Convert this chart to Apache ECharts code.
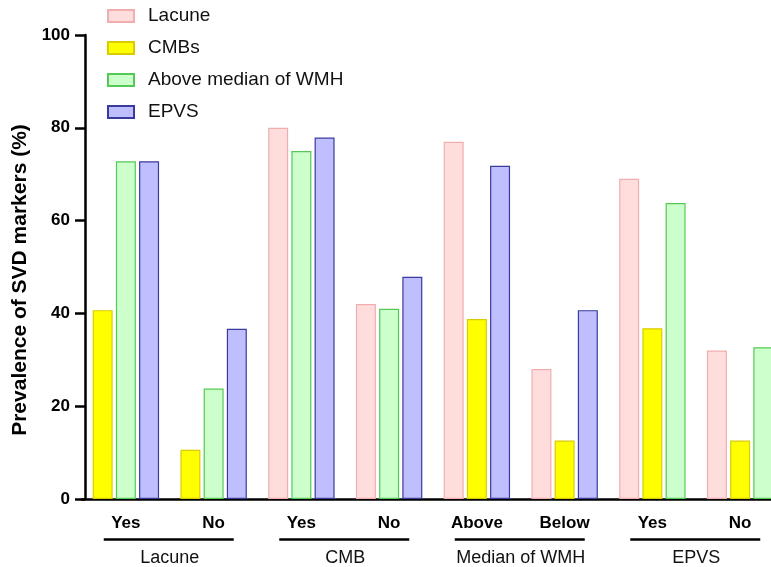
<!DOCTYPE html>
<html>
<head>
<meta charset="utf-8">
<script src="https://cdn.jsdelivr.net/npm/echarts@6/dist/echarts.min.js"></script>
<style>
  html, body { margin: 0; padding: 0; background: #fff; overflow: hidden; }
  /* plot runs past the right edge of the window, as in the original */
  #chart { width: 784px; height: 567px; }
</style>
</head>
<body>
<div id="chart"></div>
<script>
// categories and groups
var categories = ['Yes', 'No', 'Yes', 'No', 'Above', 'Below', 'Yes', 'No'];
var groupNames = ['Lacune', 'CMB', 'Median of WMH', 'EPVS'];

// prevalence (%) per marker, null where the marker is the grouping variable
var lacune = [null, null, 80, 42, 77, 28, 69, 32];
var cmbs = [40.7, 10.6, null, null, 38.8, 12.6, 36.8, 12.6];
var wmh = [72.8, 23.8, 75, 41, null, null, 63.8, 32.7];
var epvs = [72.8, 36.7, 77.9, 47.9, 71.8, 40.7, null, null];

var markerNames = ['Lacune', 'CMBs', 'Above median of WMH', 'EPVS'];
var yTicks = [0, 20, 40, 60, 80, 100];

var fills = ['#FFDDDD', '#FFFF00', '#CCFFCC', '#BFBFFF'];
var borders = ['#F2AEAE', '#D9CC00', '#55C955', '#3B3B9C'];

var font = 'Liberation Sans, Arial, sans-serif';

function buildSlots() {
  // every category has three bars; the missing marker leaves no gap
  var all = [lacune, cmbs, wmh, epvs];
  var slots = [[], [], []];
  categories.forEach(function (c, i) {
    var k = 0;
    all.forEach(function (arr, m) {
      if (arr[i] == null) return;
      slots[k].push({
        value: arr[i],
        itemStyle: { color: fills[m], borderColor: borders[m] }
      });
      k++;
    });
  });
  return slots;
}

function init() {
  var chart = echarts.init(document.getElementById('chart'));
  var slots = buildSlots();
  var series = [];

  slots.forEach(function (data) {
    series.push({
      type: 'bar',
      xAxisIndex: 0,
      barWidth: 20,
      barGap: '16%',
      itemStyle: { borderWidth: 1.2 },
      data: data
    });
  });

  // legend-only series, kept on the group axis so they take no bar slot
  markerNames.forEach(function (name, m) {
    series.push({
      name: name,
      type: 'bar',
      xAxisIndex: 1,
      itemStyle: { color: fills[m], borderColor: borders[m], borderWidth: 1.2 },
      data: []
    });
  });

  var option = {
    animation: false,
    backgroundColor: '#fff',
    textStyle: { fontFamily: font },
    legend: {
      data: markerNames,
      orient: 'vertical',
      left: 107,
      top: 6,
      padding: 0,
      icon: 'rect',
      itemWidth: 26,
      itemHeight: 12,
      itemGap: 12,
      selectedMode: false,
      textStyle: { fontSize: 19, lineHeight: 20, color: '#111', fontFamily: font, padding: [0, 0, 0, 9] }
    },
    grid: { left: 82, top: 35, right: 0, bottom: 68, containLabel: false },
    xAxis: [
      {
        type: 'category',
        data: categories,
        position: 'bottom',
        axisLine: { lineStyle: { color: '#000', width: 2.5 } },
        axisTick: { alignWithLabel: true, length: 10, lineStyle: { color: '#000', width: 2.5 } },
        axisLabel: { fontSize: 17, fontWeight: 'bold', color: '#000', margin: 16, fontFamily: font }
      },
      {
        type: 'category',
        data: groupNames,
        position: 'bottom',
        axisLine: { show: false },
        axisTick: { show: false },
        axisLabel: { fontSize: 18, color: '#111', margin: 50, fontFamily: font }
      }
    ],
    yAxis: {
      type: 'value',
      min: 0,
      max: 100,
      interval: 20,
      offset: -3,
      name: 'Prevalence of SVD markers (%)',
      nameLocation: 'middle',
      nameGap: 45,
      nameTextStyle: { fontSize: 21, fontWeight: 'bold', color: '#000', fontFamily: font, padding: [0, 26, 0, 0] },
      axisLine: { show: true, lineStyle: { color: '#000', width: 2.5 } },
      axisTick: { show: true, length: 10, lineStyle: { color: '#000', width: 2.5 } },
      axisLabel: {
        fontSize: 17, fontWeight: 'bold', color: '#000', margin: 15, fontFamily: font,
        formatter: function (v) { return yTicks.indexOf(v) >= 0 ? String(v) : ''; }
      },
      splitLine: { show: false }
    },
    series: series
  };

  chart.setOption(option);

  // group underlines under the tick labels
  var lines = groupNames.map(function (g) {
    var cx = chart.convertToPixel({ xAxisIndex: 1 }, g);
    return {
      type: 'line',
      shape: { x1: cx - 66, y1: 539.5, x2: cx + 64, y2: 539.5 },
      style: { stroke: '#000', lineWidth: 2.5 }
    };
  });
  chart.setOption({ graphic: lines });
}

window.onload = init;
</script>
</body>
</html>
